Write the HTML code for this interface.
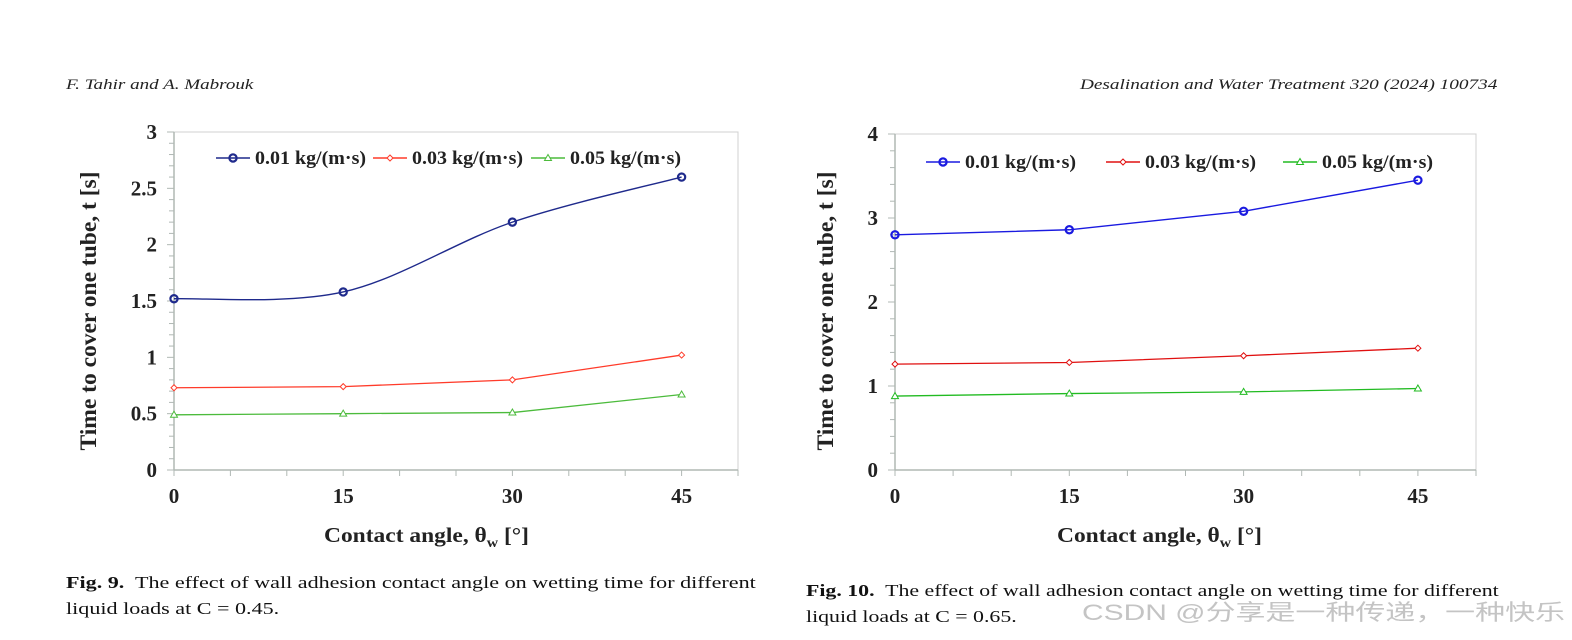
<!DOCTYPE html>
<html><head><meta charset="utf-8"><style>
body{margin:0;background:#fff;width:1572px;height:640px;overflow:hidden;position:relative;font-family:"Liberation Serif",serif;}
.hdr{position:absolute;top:77px;font-style:italic;font-size:15px;color:#222;transform-origin:0 0;transform:scaleX(1.27);white-space:nowrap;}
.cap{position:absolute;font-size:17px;color:#111;line-height:26px;transform-origin:0 0;transform:scaleX(1.3);white-space:nowrap;}
.wm{position:absolute;left:1082px;top:595px;font-family:"Liberation Sans","Noto Sans CJK SC",sans-serif;font-size:22px;color:#c4c4c4;transform-origin:0 0;white-space:nowrap;}
</style></head><body>
<div class="hdr" style="left:66px">F. Tahir and A. Mabrouk</div>
<div class="hdr" style="left:1080px;transform:scaleX(1.282)">Desalination and Water Treatment 320 (2024) 100734</div>
<svg id="svg" width="1572" height="640" style="position:absolute;left:0;top:0"></svg>
<div class="cap" style="left:66px;top:570px"><b>Fig. 9.</b>&nbsp; The effect of wall adhesion contact angle on wetting time for different<br>liquid loads at C = 0.45.</div>
<div class="cap" style="left:806px;top:578px;transform:scaleX(1.285)"><b>Fig. 10.</b>&nbsp; The effect of wall adhesion contact angle on wetting time for different<br>liquid loads at C = 0.65.</div>
<div class="wm" id="wm">CSDN @分享是一种传递，一种快乐</div>
<script>
const xCats=[0,15,30,45];
const seriesNames=["0.01 kg/(m·s)","0.03 kg/(m·s)","0.05 kg/(m·s)"];
const c1Blue=[1.52,1.58,2.2,2.6];
const c1Red=[0.73,0.74,0.8,1.02];
const c1Green=[0.49,0.5,0.51,0.67];
const c1YTicks=["0","0.5","1","1.5","2","2.5","3"];
const c2Blue=[2.8,2.86,3.08,3.45];
const c2Red=[1.26,1.28,1.36,1.45];
const c2Green=[0.88,0.91,0.93,0.97];
const c2YTicks=["0","1","2","3","4"];
const NS="http://www.w3.org/2000/svg";
const svg=document.getElementById('svg');
const wm=document.getElementById('wm');
wm.style.transform='scaleX('+(483/wm.getBoundingClientRect().width)+')';
function mk(tag,attrs,parent){const e=document.createElementNS(NS,tag);for(const k in attrs)e.setAttribute(k,attrs[k]);(parent||svg).appendChild(e);return e;}
function smoothPath(p){let d="M"+p[0][0]+","+p[0][1];for(let i=0;i<p.length-1;i++){const p0=p[i-1]||p[i],p1=p[i],p2=p[i+1],p3=p[i+2]||p2;const t=1/6;d+=" C"+(p1[0]+(p2[0]-p0[0])*t)+","+(p1[1]+(p2[1]-p0[1])*t)+" "+(p2[0]-(p3[0]-p1[0])*t)+","+(p2[1]-(p3[1]-p1[1])*t)+" "+p2[0]+","+p2[1];}return d;}
function marker(g,type,x,y,col){
 if(type==0)return mk('circle',{cx:x,cy:y,r:3.6,fill:'none',stroke:col,'stroke-width':2.2},g);
 if(type==1)return mk('path',{d:`M${x},${y-3}L${x+3},${y}L${x},${y+3}L${x-3},${y}Z`,fill:'#fff',stroke:col,'stroke-width':1},g);
 return mk('path',{d:`M${x},${y-3.5}L${x+3.5},${y+2.5}L${x-3.5},${y+2.5}Z`,fill:'#fff',stroke:col,'stroke-width':1},g);
}
function chart(o){
 const g=mk('g',{});
 
 
 const X=v=>o.x0+(o.x1-o.x0)*v/50, Y=v=>o.y0-(o.y0-o.y1)*v/o.ymax;
 mk('rect',{x:o.x0,y:o.y1,width:o.x1-o.x0,height:o.y0-o.y1,fill:'none',stroke:'#d0d0d0','stroke-width':1},g);
 const ax=mk('line',{x1:o.x0,y1:o.y1,x2:o.x0,y2:o.y0,stroke:'#b0b8b4','stroke-width':1.5},g);
 
 const bx=mk('line',{x1:o.x0,y1:o.y0,x2:o.x1,y2:o.y0,stroke:'#b0b8b4','stroke-width':1.5},g);
 
 for(let v=0;v<=o.ymax+1e-9;v+=o.minor){const major=Math.abs(v/o.major-Math.round(v/o.major))<1e-6;mk('line',{x1:o.x0-(major?7:5),x2:o.x0,y1:Y(v),y2:Y(v),stroke:'#b0b8b4'},g);}
 for(let v=0;v<=50;v+=5){mk('line',{x1:X(v),x2:X(v),y1:o.y0,y2:o.y0+6,stroke:'#b0b8b4'},g);}
 o.yt.forEach(t=>{const e=mk('text',{x:o.x0-17,y:Y(+t)+7,'text-anchor':'end','font-size':21,'font-weight':'bold',fill:'#222','font-family':'Liberation Serif'},g);e.textContent=t;});
 xCats.forEach(t=>{const e=mk('text',{x:X(t),y:o.y0+33,'text-anchor':'middle','font-size':21,'font-weight':'bold',fill:'#222','font-family':'Liberation Serif'},g);e.textContent=t;});
 const xt=mk('text',{x:o.xtx,y:o.y0+72,'font-size':21,'font-weight':'bold',fill:'#222','font-family':'Liberation Serif'},g);
 xt.innerHTML='Contact angle, θ<tspan font-size="14" dy="5">w</tspan><tspan dy="-5"> [°]</tspan>';
 
 xt.setAttribute('textLength',205);xt.setAttribute('lengthAdjust','spacingAndGlyphs');
 const yt=mk('text',{x:0,y:0,transform:`translate(${o.ytx},311) rotate(-90)`,'text-anchor':'middle','font-size':23,'font-weight':'bold',fill:'#222','font-family':'Liberation Serif'},g);
 yt.textContent='Time to cover one tube, t [s]';
 yt.setAttribute('textLength',279);yt.setAttribute('lengthAdjust','spacingAndGlyphs');
 
 const ser=[o.b,o.r,o.gr];
 ser.forEach((vals,i)=>{
  const pts=xCats.map((c,j)=>[X(c),Y(vals[j])]);
  const sg=mk('g',{},g);
  
  
  const d=(i==0&&o.smooth)?smoothPath(pts):"M"+pts.map(p=>p.join(",")).join(" L");
  mk('path',{d:d,fill:'none',stroke:o.cols[i],'stroke-width':i==0?1.4:1.3},sg);
  pts.forEach(p=>{const m=marker(sg,i,p[0],p[1],o.cols[i]);});
  const lx=o.leg[i],ly=o.legY;
  const lg=mk('g',{},g);
  
  
  mk('line',{x1:lx,x2:lx+34,y1:ly,y2:ly,stroke:o.cols[i],'stroke-width':1.4},lg);
  marker(lg,i,lx+17,ly,o.cols[i]);
  const t=mk('text',{x:lx+39,y:ly+6,'font-size':19,'font-weight':'bold',fill:'#222','font-family':'Liberation Serif'},lg);t.textContent=seriesNames[i];
  t.setAttribute('textLength',111);t.setAttribute('lengthAdjust','spacingAndGlyphs');
 });
}
chart({name:'chart-fig9',x0:174,x1:738,y0:470,y1:132,ymax:3,minor:0.1,major:0.5,yt:c1YTicks,b:c1Blue,r:c1Red,gr:c1Green,cols:['#1f2a8c','#ff3b2a','#4cbb3c'],smooth:true,leg:[216,373,531],legY:158,ytx:96,xtx:324});
chart({name:'chart-fig10',x0:895,x1:1476,y0:470,y1:134,ymax:4,minor:0.2,major:1,yt:c2YTicks,b:c2Blue,r:c2Red,gr:c2Green,cols:['#1a1ae0','#e01010','#22bb22'],smooth:false,leg:[926,1106,1283],legY:162,ytx:833,xtx:1057});
</script>
</body></html>
